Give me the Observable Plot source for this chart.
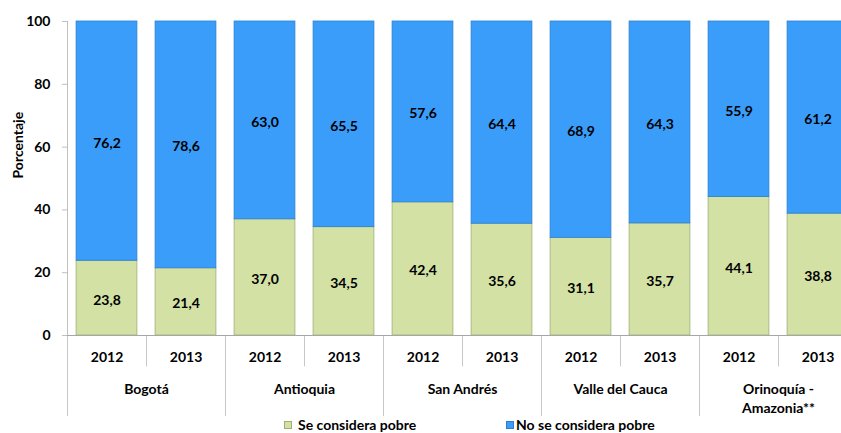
<!DOCTYPE html>
<html>
<head>
<meta charset="utf-8">
<script src="https://cdn.jsdelivr.net/npm/d3@7"></script>
<script src="https://cdn.jsdelivr.net/npm/@observablehq/plot@0.6"></script>
<style>
  html, body { margin: 0; padding: 0; background: #fff; overflow: hidden; }
  #chart svg { display: block; overflow: hidden; }
  #legend { position: relative; width: 841px; height: 17px; font-family: Lato, sans-serif; font-weight: bold; font-size: 14px; color: #000; }
  #legend .sw { position: absolute; top: 5px; width: 8px; height: 8px; box-sizing: border-box; }
  #legend .lb { position: absolute; top: 0px; line-height: 17px; white-space: nowrap; }
</style>
</head>
<body>
<div id="chart"></div>
<div id="legend"></div>
<script>
const regions = ["Bogotá", "Antioquia", "San Andrés", "Valle del Cauca", "Orinoquía -\nAmazonia**"];
const years = ["2012", "2013"];
const seriesNames = ["Se considera pobre", "No se considera pobre"];
const pobre    = [23.8, 21.4, 37.0, 34.5, 42.4, 35.6, 31.1, 35.7, 44.1, 38.8];
const noPobre  = [76.2, 78.6, 63.0, 65.5, 57.6, 64.4, 68.9, 64.3, 55.9, 61.2];
const yTicks = [0, 20, 40, 60, 80, 100];
const colors = ["#d3e1a5", "#3a9dfa"];
const strokes = ["#9fae78", "#2a7fd0"];

const bars = [];
regions.forEach((r, k) => years.forEach((yr, j) => bars.push({i: 2 * k + j, region: r, year: yr})));
const rows = [];
bars.forEach(b => {
  rows.push({i: b.i, series: seriesNames[0], value: pobre[b.i]});
  rows.push({i: b.i, series: seriesNames[1], value: noPobre[b.i]});
});
const fmt = v => v.toFixed(1).replace(".", ",");
const pad = 0.115;

const chart = Plot.plot({
  width: 841,
  height: 416,
  marginLeft: 67,
  marginTop: 21,
  marginBottom: 81,
  marginRight: 0,
  x: {domain: [0, bars.length], range: [67, 857], axis: null},
  y: {domain: [0, 100], range: [335, 21], axis: null},
  color: {domain: seriesNames, range: colors},
  style: {fontFamily: "Lato, sans-serif", fontSize: "14px", fontWeight: "bold", color: "#000", background: "#fff", overflow: "hidden"},
  marks: [
    Plot.ruleX(regions.map((r, k) => 2 * k), {y1: 0, y2: -26, stroke: "#c8c8c8"}),
    Plot.ruleX(regions.map((r, k) => 2 * k + 1), {y1: 0, y2: -10, stroke: "#c8c8c8"}),
    Plot.ruleX([0], {y1: 0, y2: 100, stroke: "#c0c0c0"}),
    Plot.axisY({ticks: yTicks, tickSize: 5, tickPadding: 12, stroke: "#c0c0c0", fill: "#000", label: null, fontSize: 14, fontWeight: "bold"}),
    Plot.rectY(rows, {
      x1: d => d.i + pad,
      x2: d => d.i + 1 - pad,
      y: "value",
      fill: "series",
      stroke: d => strokes[seriesNames.indexOf(d.series)],
      strokeWidth: 0.8
    }),
    Plot.ruleY([0], {x1: 0, x2: bars.length, stroke: "#a6a6a6"}),
    Plot.text(rows, Plot.stackY({
      x: d => d.i + 0.5,
      y: "value",
      text: d => fmt(d.value),
      dy: 2,
      fill: "#000",
      fontSize: 14,
      fontWeight: "bold"
    })),
    Plot.text(bars, {x: d => d.i + 0.5, y: 0, dy: 22, text: "year", fill: "#000", fontSize: 14, fontWeight: "bold"}),
    Plot.text(regions, {x: (d, k) => 2 * k + 1, y: 0, dy: 45, text: d => d, lineAnchor: "top", lineHeight: 1.36, fill: "#000", fontSize: 14, fontWeight: "bold"}),
    Plot.text(["Porcentaje"], {frameAnchor: "left", dx: -49, rotate: -90, text: d => d, fill: "#000", fontSize: 14, fontWeight: "bold"})
  ]
});
document.getElementById("chart").appendChild(chart);

const legend = document.getElementById("legend");
const legendPos = [{sw: 284, lb: 298}, {sw: 506, lb: 516}];
seriesNames.forEach((name, k) => {
  const sw = document.createElement("div");
  sw.className = "sw";
  sw.style.left = legendPos[k].sw + "px";
  sw.style.background = colors[k];
  sw.style.border = "1px solid " + strokes[k];
  legend.appendChild(sw);
  const lb = document.createElement("div");
  lb.className = "lb";
  lb.style.left = legendPos[k].lb + "px";
  lb.textContent = name;
  legend.appendChild(lb);
});
</script>
</body>
</html>
